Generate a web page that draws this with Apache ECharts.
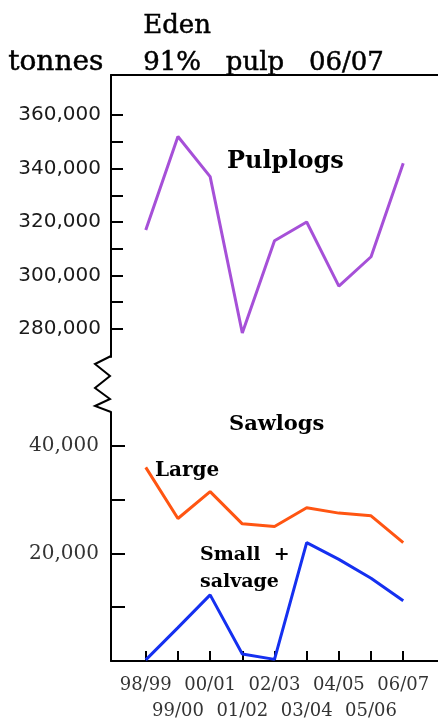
<!DOCTYPE html>
<html>
<head>
<meta charset="utf-8">
<script src="https://cdn.jsdelivr.net/npm/echarts@6/dist/echarts.min.js"></script>
<style>
  html, body { margin: 0; padding: 0; background: #fff; }
  #chart { width: 438px; height: 724px; }
</style>
</head>
<body>
<div id="chart"></div>
<script>
// harvest seasons along the bottom
const seasons = ['98/99', '99/00', '00/01', '01/02', '02/03', '03/04', '04/05', '05/06', '06/07']
// tonnes per season
const pulplogs = [317000, 352000, 337000, 278500, 313000, 320000, 296000, 307000, 342000]
const largeSawlogs = [36000, 26500, 31500, 25500, 25000, 28500, 27500, 27000, 22000]
const smallSalvage = [200, 6200, 12300, 1300, 300, 22000, 18900, 15400, 11200]
// ticks and labels on the broken y axis
const upperTicks = [280000, 290000, 300000, 310000, 320000, 330000, 340000, 350000, 360000]
const upperLabels = [280000, 300000, 320000, 340000, 360000]
const lowerTicks = [10000, 20000, 30000, 40000]
const lowerLabels = [20000, 40000]

const serif = 'DejaVu Serif'
const fmt = v => String(v).replace(/\B(?=(\d{3})+(?!\d))/g, ',')
const pairs = arr => arr.map((v, i) => [i, v])
const idx = seasons.map((s, i) => i)
const black = { color: '#000', width: 2 }

const chart = echarts.init(document.getElementById('chart'))

const xBase = {
  type: 'value',
  min: -1.08,
  max: 9.08,
  splitLine: { show: false },
  axisLine: { show: false, onZero: false },
  axisTick: { show: false },
  axisLabel: { show: false }
}

// thin outline makes the serif a bit heavier, like the scan
const heavy = { stroke: '#000', lineWidth: 0.5 }

chart.setOption({
  backgroundColor: '#fff',
  animation: false,
  grid: [
    { left: 111, right: 0, top: 75, bottom: 367 },
    { left: 111, right: 0, top: 412, bottom: 63 }
  ],
  xAxis: [
    Object.assign({}, xBase, {
      gridIndex: 0,
      position: 'top',
      axisLine: { show: true, onZero: false, lineStyle: black }
    }),
    Object.assign({}, xBase, {
      gridIndex: 1,
      position: 'bottom',
      axisLine: { show: true, onZero: false, lineStyle: black },
      axisTick: { show: true, inside: true, length: 10, customValues: idx, lineStyle: black },
      axisLabel: {
        show: true,
        customValues: idx.filter(i => i % 2 === 0),
        formatter: v => seasons[Math.round(v)],
        margin: 15,
        color: '#333',
        fontFamily: serif,
        fontSize: 18
      }
    }),
    Object.assign({}, xBase, {
      gridIndex: 1,
      position: 'bottom',
      axisLabel: {
        show: true,
        customValues: idx.filter(i => i % 2 === 1),
        formatter: v => seasons[Math.round(v)],
        margin: 41,
        color: '#333',
        fontFamily: serif,
        fontSize: 18
      }
    })
  ],
  yAxis: [
    {
      gridIndex: 0,
      type: 'value',
      min: 269500,
      max: 375000,
      splitLine: { show: false },
      axisLine: { show: true, onZero: false, lineStyle: black },
      axisTick: { show: true, inside: true, length: 12, customValues: upperTicks, lineStyle: black },
      axisLabel: {
        customValues: upperLabels,
        formatter: fmt,
        margin: 10,
        color: '#1a1a1a',
        fontFamily: 'DejaVu Sans',
        fontSize: 20
      }
    },
    {
      gridIndex: 1,
      type: 'value',
      min: 0,
      max: 46300,
      splitLine: { show: false },
      axisLine: { show: true, onZero: false, lineStyle: black },
      axisTick: { show: true, inside: true, length: 14, customValues: lowerTicks, lineStyle: black },
      axisLabel: {
        customValues: lowerLabels,
        formatter: fmt,
        margin: 12,
        color: '#333',
        fontFamily: serif,
        fontSize: 20
      }
    }
  ],
  series: [
    {
      name: 'Pulplogs',
      type: 'line',
      xAxisIndex: 0,
      yAxisIndex: 0,
      data: pairs(pulplogs),
      symbol: 'none',
      lineStyle: { color: '#a650d8', width: 3 }
    },
    {
      name: 'Large',
      type: 'line',
      xAxisIndex: 1,
      yAxisIndex: 1,
      data: pairs(largeSawlogs),
      symbol: 'none',
      lineStyle: { color: '#ff5512', width: 3 }
    },
    {
      name: 'Small + salvage',
      type: 'line',
      xAxisIndex: 1,
      yAxisIndex: 1,
      data: pairs(smallSalvage),
      symbol: 'none',
      lineStyle: { color: '#1530f0', width: 3 }
    }
  ],
  graphic: [
    // axis break
    {
      type: 'polyline',
      shape: { points: [[111, 356], [95, 364], [110, 376], [95, 388], [110, 399], [95, 406], [111, 412]] },
      style: { stroke: '#000', lineWidth: 2, fill: null }
    },
    { type: 'text', left: 143, top: 13, style: Object.assign({ text: 'Eden', font: '26px DejaVu Serif', fill: '#000' }, heavy) },
    { type: 'text', left: 143, top: 50, style: Object.assign({ text: '91%   pulp   06/07', font: '26px DejaVu Serif', fill: '#000' }, heavy) },
    { type: 'text', left: 8, top: 48, style: Object.assign({ text: 'tonnes', font: '28px DejaVu Serif', fill: '#000' }, heavy) },
    { type: 'text', left: 227, top: 150, style: { text: 'Pulplogs', font: 'bold 24px DejaVu Serif', fill: '#000' } },
    { type: 'text', left: 229, top: 414, style: { text: 'Sawlogs', font: 'bold 21px DejaVu Serif', fill: '#000' } },
    { type: 'text', left: 155, top: 461, style: { text: 'Large', font: 'bold 20px DejaVu Serif', fill: '#000' } },
    { type: 'text', left: 200, top: 542, style: { text: 'Small  +\nsalvage', font: 'bold 19px DejaVu Serif', lineHeight: 27, fill: '#000' } }
  ]
})
</script>
</body>
</html>
